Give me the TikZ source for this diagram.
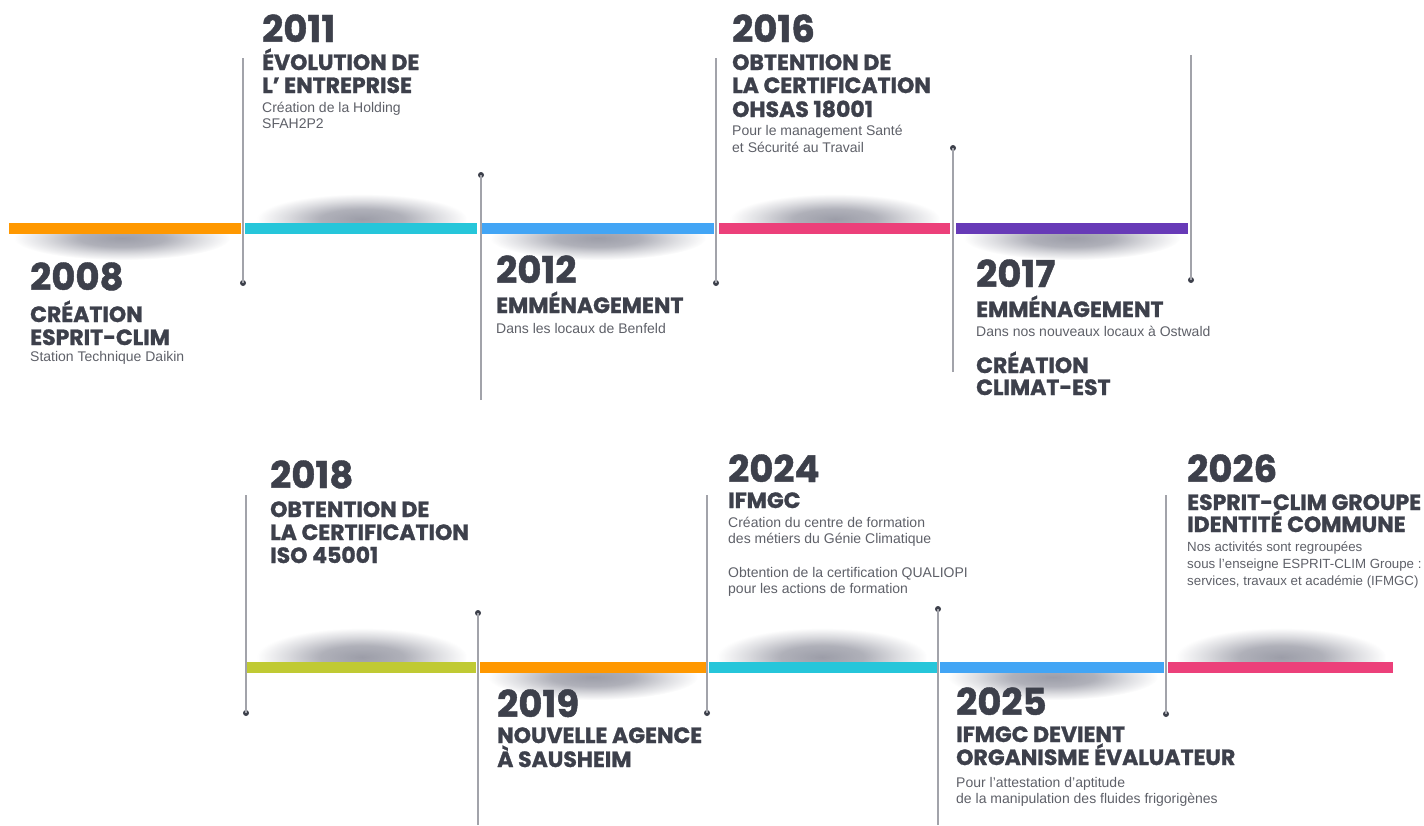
\documentclass[tikz,border=0pt]{standalone}
\usepackage{fontspec}
\usetikzlibrary{fadings}
\newfontfamily\headf{Poppins}[BoldFeatures={FakeBold=1.2}]
\newfontfamily\subf{Liberation Sans}
\definecolor{txt}{HTML}{3D404B}
\definecolor{subtxt}{HTML}{5E6068}
\definecolor{linegray}{HTML}{A2A3AA}
\definecolor{dotc}{HTML}{3D404B}
\definecolor{shc}{HTML}{5A5C6E}
\definecolor{cOrange}{HTML}{FF9800}
\definecolor{cCyan}{HTML}{26C6DA}
\definecolor{cBlue}{HTML}{42A5F5}
\definecolor{cPink}{HTML}{EC407A}
\definecolor{cPurple}{HTML}{673AB7}
\definecolor{cLime}{HTML}{C0CA33}
\pgfdeclareradialshading{shfadeshade}{\pgfpointorigin}{color(0bp)=(white); color(10bp)=(black!20); color(18bp)=(black!65); color(25bp)=(black); color(50bp)=(black)}
\pgfdeclarefading{shfade}{\pgfuseshading{shfadeshade}}
\tikzset{
  yearlbl/.style={anchor=base west, inner sep=0pt, text=txt, font=\headf\bfseries\fontsize{37}{37}\selectfont},
  ttllbl/.style={anchor=base west, inner sep=0pt, text=txt, font=\headf\bfseries\fontsize{22}{22}\selectfont},
  sublbl/.style={anchor=base west, inner sep=0pt, text=subtxt, font=\subf\fontsize{14}{14}\selectfont},
  subnlbl/.style={anchor=base west, inner sep=0pt, text=subtxt, font=\subf\fontsize{13.3}{14}\selectfont},
  vln/.style={draw=linegray, line width=1.4pt},
  dotmark/.style={circle, fill=dotc, inner sep=0pt, minimum size=6pt},
  shadowfill/.style={fill=shc, fill opacity=0.6, path fading=shfade}
}
% #1 cx, #2 cy, #3 rx, #4 ry, #5 #6 clip band in y
\newcommand\shadowell[6]{%
  \begin{scope}
    \clip (#1-#3,#5) rectangle (#1+#3,#6);
    \fill[shadowfill] (#1,#2) ellipse (#3pt and #4pt);
  \end{scope}}
\begin{document}
\begin{tikzpicture}[x=1pt,y=-1pt]
\useasboundingbox (0,0) rectangle (1424,825);
% ---------- shadows ----------
\shadowell{122}{238}{108}{22}{234}{270}
\shadowell{362}{219}{105}{25}{185}{223}
\shadowell{598}{238}{108}{22}{234}{270}
\shadowell{835}{219}{105}{25}{185}{223}
\shadowell{1072}{238}{108}{22}{234}{270}
\shadowell{362}{657}{105}{29}{620}{662}
\shadowell{593}{677}{105}{23}{673}{710}
\shadowell{822}{657}{105}{29}{620}{662}
\shadowell{1053}{677}{105}{23}{673}{710}
\shadowell{1281}{657}{105}{29}{620}{662}
% ---------- bars ----------
\fill[cOrange] (9,223) rectangle (241,234);
\fill[cCyan] (245,223) rectangle (477,234);
\fill[cBlue] (482,223) rectangle (714,234);
\fill[cPink] (719,223) rectangle (950,234);
\fill[cPurple] (956,223) rectangle (1188,234);
\fill[cLime] (247,662) rectangle (476,673);
\fill[cOrange] (480,662) rectangle (706,673);
\fill[cCyan] (709,662) rectangle (937,673);
\fill[cBlue] (940,662) rectangle (1164,673);
\fill[cPink] (1168,662) rectangle (1393,673);
% ---------- vertical lines ----------
\coordinate (t1) at (243,58);   \node[dotmark] (d1) at (243,283) {};
\coordinate (t2) at (481,400);  \node[dotmark] (d2) at (481,175) {};
\coordinate (t3) at (716,58);   \node[dotmark] (d3) at (716,283) {};
\coordinate (t4) at (953,372);  \node[dotmark] (d4) at (953,148) {};
\coordinate (t5) at (1191,55);  \node[dotmark] (d5) at (1191,280) {};
\coordinate (b1) at (246,495);  \node[dotmark] (e1) at (246,713) {};
\coordinate (b2) at (478,825);  \node[dotmark] (e2) at (478,613) {};
\coordinate (b3) at (707,495);  \node[dotmark] (e3) at (707,713) {};
\coordinate (b4) at (938,825);  \node[dotmark] (e4) at (938,609) {};
\coordinate (b5) at (1166,495); \node[dotmark] (e5) at (1166,714) {};
\foreach \a/\b in {t1/d1,t2/d2,t3/d3,t4/d4,t5/d5,b1/e1,b2/e2,b3/e3,b4/e4,b5/e5}
  \draw[vln] (\a) -- (\b.center);
% ---------- top row texts ----------
\node[yearlbl] (y2008) at (30,290) {2008};
\node[ttllbl] (t2008a) at (30,322) {CRÉATION};
\node[ttllbl] (t2008b) at (30,345) {ESPRIT-CLIM};
\node[sublbl] (s2008a) at (30,361) {Station Technique Daikin};

\node[yearlbl] (y2011) at (262,42) {2011};
\node[ttllbl] (t2011a) at (262,70) {ÉVOLUTION DE};
\node[ttllbl] (t2011b) at (262,93) {L’ ENTREPRISE};
\node[sublbl] (s2011a) at (262,112) {Création de la Holding};
\node[sublbl] (s2011b) at (262,128) {SFAH2P2};

\node[yearlbl] (y2012) at (496,283) {2012};
\node[ttllbl] (t2012a) at (496,313) {EMMÉNAGEMENT};
\node[sublbl] (s2012a) at (496,333) {Dans les locaux de Benfeld};

\node[yearlbl] (y2016) at (732,42) {2016};
\node[ttllbl] (t2016a) at (732,70) {OBTENTION DE};
\node[ttllbl] (t2016b) at (732,93) {LA CERTIFICATION};
\node[ttllbl] (t2016c) at (732,117) {OHSAS 18001};
\node[sublbl] (s2016a) at (732,135) {Pour le management Santé};
\node[sublbl] (s2016b) at (732,152) {et Sécurité au Travail};

\node[yearlbl] (y2017) at (976,287) {2017};
\node[ttllbl] (t2017a) at (976,317) {EMMÉNAGEMENT};
\node[sublbl] (s2017a) at (976,336) {Dans nos nouveaux locaux à Ostwald};
\node[ttllbl] (t2017b) at (976,373) {CRÉATION};
\node[ttllbl] (t2017c) at (976,395) {CLIMAT-EST};
% ---------- bottom row texts ----------
\node[yearlbl] (y2018) at (270,488) {2018};
\node[ttllbl] (t2018a) at (270,517) {OBTENTION DE};
\node[ttllbl] (t2018b) at (270,540) {LA CERTIFICATION};
\node[ttllbl] (t2018c) at (270,563) {ISO 45001};

\node[yearlbl] (y2019) at (497,717) {2019};
\node[ttllbl] (t2019a) at (497,743) {NOUVELLE AGENCE};
\node[ttllbl] (t2019b) at (497,767) {À SAUSHEIM};

\node[yearlbl] (y2024) at (728,482) {2024};
\node[ttllbl] (t2024a) at (728,508) {IFMGC};
\node[sublbl] (s2024a) at (728,527) {Création du centre de formation};
\node[sublbl] (s2024b) at (728,543) {des métiers du Génie Climatique};
\node[sublbl] (s2024c) at (728,577) {Obtention de la certification QUALIOPI};
\node[sublbl] (s2024d) at (728,593) {pour les actions de formation};

\node[yearlbl] (y2025) at (956,715) {2025};
\node[ttllbl] (t2025a) at (956,742) {IFMGC DEVIENT};
\node[ttllbl] (t2025b) at (956,765) {ORGANISME ÉVALUATEUR};
\node[sublbl] (s2025a) at (956,787) {Pour l’attestation d’aptitude};
\node[sublbl] (s2025b) at (956,803) {de la manipulation des fluides frigorigènes};

\node[yearlbl] (y2026) at (1187,482) {2026};
\node[ttllbl] (t2026a) at (1187,510) {ESPRIT-CLIM GROUPE};
\node[ttllbl] (t2026b) at (1187,532) {IDENTITÉ COMMUNE};
\node[subnlbl] (s2026a) at (1187,551) {Nos activités sont regroupées};
\node[subnlbl] (s2026b) at (1187,568) {sous l’enseigne ESPRIT-CLIM Groupe :};
\node[subnlbl] (s2026c) at (1187,585) {services, travaux et académie (IFMGC)};
\end{tikzpicture}
\end{document}
